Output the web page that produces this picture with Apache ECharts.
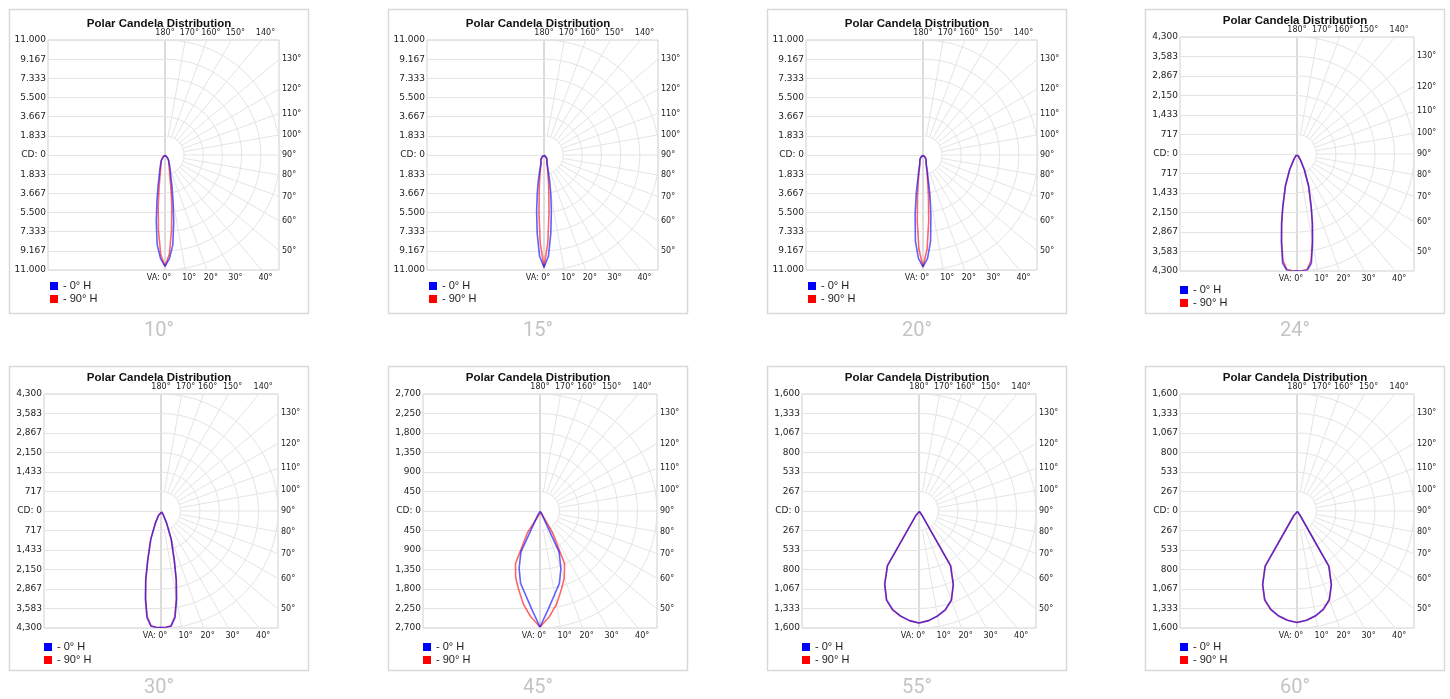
<!DOCTYPE html>
<html><head><meta charset="utf-8">
<script src="https://cdn.jsdelivr.net/npm/echarts@6/dist/echarts.min.js"></script>
<style>html,body{margin:0;padding:0;background:#fff}#c{width:1450px;height:699px}</style>
</head><body><div id="c"></div>
<script>
// ---------------- data ----------------
const panelNames = ['10°', '15°', '20°', '24°', '30°', '45°', '55°', '60°'];
const maxCandela = [11000, 11000, 11000, 4300, 4300, 2700, 1600, 1600];
const seriesNames = ['0° H', '90° H'];

const cdTicks11000 = ['11.000', '9.167', '7.333', '5.500', '3.667', '1.833', 'CD: 0'];
const cdTicks4300 = ['4,300', '3,583', '2,867', '2,150', '1,433', '717', 'CD: 0'];
const cdTicks2700 = ['2,700', '2,250', '1,800', '1,350', '900', '450', 'CD: 0'];
const cdTicks1600 = ['1,600', '1,333', '1,067', '800', '533', '267', 'CD: 0'];
const panelTicks = [cdTicks11000, cdTicks11000, cdTicks11000, cdTicks4300, cdTicks4300, cdTicks2700, cdTicks1600, cdTicks1600];

const topAngles = [180, 170, 160, 150, 140];
const topAngleLabels = ['180°', '170°', '160°', '150°', '140°'];
const rightAngles = [130, 120, 110, 100, 90, 80, 70, 60, 50];
const rightAngleLabels = ['130°', '120°', '110°', '100°', '90°', '80°', '70°', '60°', '50°'];
const bottomAngles = [0, 10, 20, 30, 40];
const bottomAngleLabels = ['VA: 0°', '10°', '20°', '30°', '40°'];
const radialAngles = [10, 20, 30, 40, 50, 60, 70, 80, 90, 100, 110, 120, 130, 140, 150, 160, 170];

const anglesFine = [0, 2.5, 5, 7.5, 10, 12.5, 15, 20, 25, 30, 35, 40, 45, 50, 55, 60, 65, 70, 75, 80, 85, 90];
const anglesCoarse = [0, 5, 10, 15, 20, 25, 30, 35, 40, 45, 50, 55, 60, 65, 70, 75, 80, 85, 90];

const cd10_0H  = [10650, 9900, 8600, 6400, 4400, 3100, 2200, 1450, 1000, 740, 620, 420, 220, 90, 30, 0, 0, 0, 0, 0, 0, 0];
const cd10_90H = [10650, 9500, 7200, 5000, 3300, 2300, 1700, 1150, 850, 720, 620, 420, 220, 90, 30, 0, 0, 0, 0, 0, 0, 0];
const cd15_0H  = [10740, 9700, 7500, 5400, 3700, 2500, 1600, 850, 650, 600, 520, 380, 200, 80, 25, 0, 0, 0, 0, 0, 0, 0];
const cd15_90H = [10740, 8400, 5500, 3500, 2400, 1700, 1250, 800, 650, 600, 520, 380, 200, 80, 25, 0, 0, 0, 0, 0, 0, 0];
const cd20_0H  = [10700, 9900, 8300, 5800, 3700, 2200, 1600, 900, 700, 600, 520, 380, 200, 80, 25, 0, 0, 0, 0, 0, 0, 0];
const cd20_90H = [10700, 9000, 6300, 4000, 2600, 1800, 1300, 850, 700, 600, 520, 380, 200, 80, 25, 0, 0, 0, 0, 0, 0, 0];
const cd24_0H  = [4300, 4300, 4290, 4050, 3300, 2620, 2030, 1250, 650, 250, 70, 25, 10, 0, 0, 0, 0, 0, 0, 0, 0, 0];
const cd24_90H = [4300, 4300, 4260, 3950, 3250, 2600, 2000, 1230, 640, 250, 70, 25, 10, 0, 0, 0, 0, 0, 0, 0, 0, 0];
const cd30_0H  = [4280, 4280, 4250, 3950, 3300, 2600, 1900, 1100, 480, 180, 50, 15, 5, 0, 0, 0, 0, 0, 0, 0, 0, 0];
const cd30_90H = [4280, 4280, 4230, 3900, 3250, 2580, 1880, 1090, 470, 180, 50, 15, 5, 0, 0, 0, 0, 0, 0, 0, 0, 0];
const cd45_0H  = [2677, 2260, 1950, 1730, 1410, 1040, 70, 10, 0, 0, 0, 0, 0, 0, 0, 0, 0, 0, 0];
const cd45_90H = [2677, 2450, 2190, 1890, 1640, 1340, 580, 30, 10, 0, 0, 0, 0, 0, 0, 0, 0, 0, 0];
const cd55_0H  = [1532, 1505, 1457, 1395, 1293, 1108, 862, 70, 10, 0, 0, 0, 0, 0, 0, 0, 0, 0, 0];
const cd55_90H = [1532, 1505, 1460, 1400, 1300, 1112, 866, 70, 10, 0, 0, 0, 0, 0, 0, 0, 0, 0, 0];
const cd60_0H  = [1525, 1500, 1455, 1390, 1290, 1110, 870, 75, 10, 0, 0, 0, 0, 0, 0, 0, 0, 0, 0];
const cd60_90H = [1525, 1500, 1458, 1395, 1295, 1114, 874, 75, 10, 0, 0, 0, 0, 0, 0, 0, 0, 0, 0];

const panelAngles = [anglesFine, anglesFine, anglesFine, anglesFine, anglesFine, anglesCoarse, anglesCoarse, anglesCoarse];
const panel0H = [cd10_0H, cd15_0H, cd20_0H, cd24_0H, cd30_0H, cd45_0H, cd55_0H, cd60_0H];
const panel90H = [cd10_90H, cd15_90H, cd20_90H, cd24_90H, cd30_90H, cd45_90H, cd55_90H, cd60_90H];

// ---------------- styling / layout ----------------
const GRID_COLOR = '#e4e4e4';
const BORDER_COLOR = '#d0d0d0';
const LABEL_COLOR = '#222';
const colX = [9, 388, 767, 1145];
const rowY = [9, 366];
const BOX_W = 300, BOX_H = 305;

function layout(i) {
  const bx = colX[i % 4], by = rowY[Math.floor(i / 4)];
  if (panelTicks[i] === cdTicks11000) {
    return {bx, by, left: bx + 39, right: bx + 270, top: by + 31, R: 115, cx: bx + 156,
            titleY: by + 14.5, legTop: by + 270.5, legLeft: bx + 41};
  }
  return {bx, by, left: bx + 35, right: bx + 269, top: by + 28, R: 117, cx: bx + 152,
          titleY: by + 12.3, legTop: by + 274.5, legLeft: bx + 35};
}
const D2R = Math.PI / 180;
function nearest(arr, v) {
  let best = 0, bd = Infinity;
  arr.forEach((p, k) => { const d = Math.abs(p - v); if (d < bd) { bd = d; best = k; } });
  return best;
}
function loop(angles, vals) {
  const pts = angles.map((a, k) => [vals[k], a]);
  for (let k = angles.length - 1; k >= 0; k--) pts.push([vals[k], 360 - angles[k]]);
  return pts;
}
const degFont = {fontFamily: 'DejaVu Sans', fontSize: 8, color: LABEL_COLOR};
const degRich = {
  o: Object.assign({padding: [0, 0, 0, 8]}, degFont),
  c: Object.assign({}, degFont),
  v: Object.assign({padding: [0, 12, 0, 0]}, degFont)
};

const option = {
  animation: false, backgroundColor: '#ffffff',
  grid: [], xAxis: [], yAxis: [], polar: [], angleAxis: [], radiusAxis: [],
  legend: [], series: [], graphic: []
};

panelNames.forEach((pname, i) => {
  const L = layout(i);
  const cy = L.top + L.R;
  const xR = 6 * (L.right - L.cx) / L.R;
  const ticks = panelTicks[i];
  const fullTicks = ticks.concat(ticks.slice(0, 6).reverse());

  const g = option.grid.length;
  option.grid.push({left: L.left, top: L.top, width: L.cx - L.left, height: 2 * L.R, show: true,
    borderColor: BORDER_COLOR, borderWidth: 1, backgroundColor: 'transparent', containLabel: false, outerBoundsMode: 'none'});
  option.grid.push({left: L.cx, top: L.top, width: L.right - L.cx, height: 2 * L.R, show: true,
    borderColor: BORDER_COLOR, borderWidth: 1, backgroundColor: 'transparent', containLabel: false, outerBoundsMode: 'none'});

  const topPos = topAngles.map(a => 6 * Math.tan((180 - a) * D2R));
  const bottomPos = bottomAngles.map(a => 6 * Math.tan(a * D2R));
  const rightPos = rightAngles.map(a => (a === 90 ? 0 : -xR / Math.tan(a * D2R)));

  const xa = option.xAxis.length;
  option.xAxis.push({gridIndex: g, type: 'value', min: 0, max: 1, show: false});
  option.xAxis.push({gridIndex: g + 1, type: 'value', position: 'top', min: 0, max: xR,
    axisLine: {show: false}, axisTick: {show: false}, splitLine: {show: false},
    axisLabel: Object.assign({margin: 3, customValues: topPos, rich: degRich,
      formatter: v => { const k = nearest(topPos, v); return (k === 0 ? '{c|' : '{o|') + topAngleLabels[k] + '}'; }}, degFont)});
  option.xAxis.push({gridIndex: g + 1, type: 'value', position: 'bottom', min: 0, max: xR,
    axisLine: {show: false}, axisTick: {show: false}, splitLine: {show: false},
    axisLabel: Object.assign({margin: 4, customValues: bottomPos, rich: degRich,
      formatter: v => { const k = nearest(bottomPos, v); return (k === 0 ? '{v|' : '{o|') + bottomAngleLabels[k] + '}'; }}, degFont)});

  const ya = option.yAxis.length;
  option.yAxis.push({gridIndex: g, type: 'value', min: -6, max: 6, interval: 1,
    axisLine: {show: false}, axisTick: {show: false},
    splitLine: {show: true, lineStyle: {color: GRID_COLOR, width: 1}},
    axisLabel: {margin: 2, fontFamily: 'DejaVu Sans', fontSize: 9, color: LABEL_COLOR,
      formatter: v => fullTicks[Math.round(6 - v)]}});
  option.yAxis.push({gridIndex: g + 1, type: 'value', position: 'right', min: -6, max: 6,
    axisLine: {show: false}, axisTick: {show: false}, splitLine: {show: false},
    axisLabel: Object.assign({margin: 3, customValues: rightPos,
      formatter: v => rightAngleLabels[nearest(rightPos, v)]}, degFont)});

  // polar grid (half disk arcs)
  const p = option.polar.length;
  option.polar.push({center: [L.cx, cy], radius: [0, L.R]});
  option.polar.push({center: [L.cx, cy], radius: L.R});
  option.angleAxis.push({polarIndex: p, type: 'value', min: 0, max: 180, startAngle: 270, endAngle: 450, clockwise: false,
    axisLine: {show: false}, axisTick: {show: false}, axisLabel: {show: false}, splitLine: {show: false}});
  option.radiusAxis.push({polarIndex: p, type: 'value', min: 0, max: 6, interval: 1,
    axisLine: {show: false}, axisTick: {show: false}, axisLabel: {show: false},
    splitLine: {show: true, lineStyle: {color: GRID_COLOR, width: 1}}});
  option.angleAxis.push({polarIndex: p + 1, type: 'value', min: 0, max: 360, startAngle: 270, clockwise: false, show: false});
  option.radiusAxis.push({polarIndex: p + 1, type: 'value', min: 0, max: maxCandela[i], show: false});

  // radial grid lines (from inner circle to plot border)
  radialAngles.forEach(a => {
    option.series.push({type: 'line', xAxisIndex: xa + 1, yAxisIndex: ya + 1, silent: true, clip: true,
      symbol: 'none', z: 1, lineStyle: {color: GRID_COLOR, width: 1},
      data: [[Math.sin(a * D2R), -Math.cos(a * D2R)], [20 * Math.sin(a * D2R), -20 * Math.cos(a * D2R)]]});
  });

  // candela curves
  option.series.push({type: 'line', name: seriesNames[1], coordinateSystem: 'polar', polarIndex: p + 1,
    symbol: 'none', showSymbol: false, silent: true, z: 3, color: '#ff0000',
    lineStyle: {color: 'rgba(255,0,0,0.6)', width: 1.6},
    data: loop(panelAngles[i], panel90H[i])});
  option.series.push({type: 'line', name: seriesNames[0], coordinateSystem: 'polar', polarIndex: p + 1,
    symbol: 'none', showSymbol: false, silent: true, z: 4, color: '#0000ff',
    lineStyle: {color: 'rgba(0,0,255,0.62)', width: 1.6},
    data: loop(panelAngles[i], panel0H[i])});

  option.legend.push({left: L.legLeft, top: L.legTop, orient: 'vertical', padding: 0,
    itemWidth: 8, itemHeight: 8, itemGap: 0, icon: 'rect', selectedMode: false,
    formatter: '- {name}',
    textStyle: {fontFamily: 'Liberation Sans', fontSize: 11, color: '#222', lineHeight: 13},
    data: [{name: seriesNames[0], itemStyle: {color: '#0000ff', borderWidth: 0}},
           {name: seriesNames[1], itemStyle: {color: '#ff0000', borderWidth: 0}}]});

  option.graphic.push({type: 'rect', z: -1, silent: true,
    shape: {x: L.bx + 0.5, y: L.by + 0.5, width: BOX_W - 1, height: BOX_H - 1},
    style: {fill: 'none', stroke: '#d9d9d9', lineWidth: 1.5}});
  option.graphic.push({type: 'text', silent: true, x: L.bx + BOX_W / 2, y: L.titleY,
    style: {text: 'Polar Candela Distribution', align: 'center', verticalAlign: 'middle',
      fontFamily: 'Liberation Sans', fontWeight: 'bold', fontSize: 11.5, fill: '#111'}});
  option.graphic.push({type: 'text', silent: true, x: L.bx + BOX_W / 2, y: L.by + BOX_H + 17,
    style: {text: pname, align: 'center', verticalAlign: 'middle',
      fontFamily: 'Roboto', fontSize: 20, fill: '#c4c4c4'}});
});

const chart = echarts.init(document.getElementById('c'), null, {renderer: 'canvas', width: 1450, height: 699});
chart.setOption(option);
</script>
</body></html>
